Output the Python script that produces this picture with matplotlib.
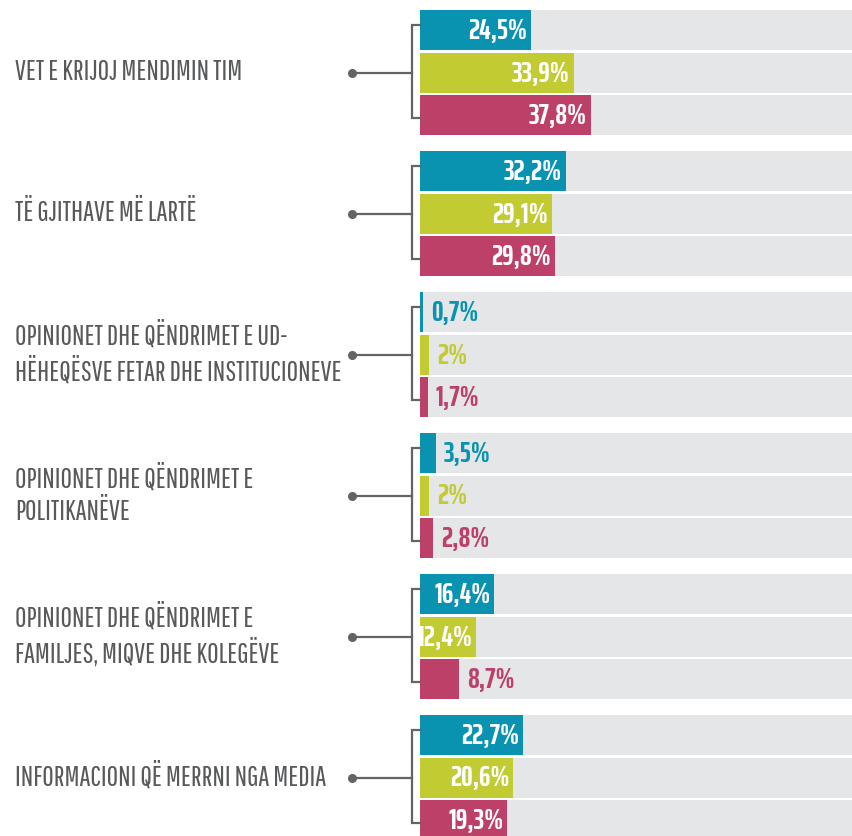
import matplotlib
matplotlib.use("Agg")
import matplotlib.pyplot as plt

# ---- data ----
categories = [
    "VET E KRIJOJ MENDIMIN TIM",
    "TË GJITHAVE MË LARTË",
    "OPINIONET DHE QËNDRIMET E UD-\nHËHEQËSVE FETAR DHE INSTITUCIONEVE",
    "OPINIONET DHE QËNDRIMET E\nPOLITIKANËVE",
    "OPINIONET DHE QËNDRIMET E\nFAMILJES, MIQVE DHE KOLEGËVE",
    "INFORMACIONI QË MERRNI NGA MEDIA",
]
series_a = [24.5, 32.2, 0.7, 3.5, 16.4, 22.7]
series_b = [33.9, 29.1, 2.0, 2.0, 12.4, 20.6]
series_c = [37.8, 29.8, 1.7, 2.8, 8.7, 19.3]

colors = ["#0a93b0", "#c3cb33", "#bd4069"]
bg_color = "#e5e6e8"
label_color = "#58595b"
bracket_color = "#636466"

LABEL_FONT = ["Pathway Gothic One", "DejaVu Sans"]
VALUE_FONT = ["Saira ExtraCondensed", "DejaVu Sans"]

W, H = 852, 837
fig = plt.figure(figsize=(W / 100, H / 100), dpi=100)
ax = fig.add_axes([0, 0, 1, 1])

PX = 4.53          # pixels per percent
X0 = 420           # pixel where bars start
ax.set_xlim(-X0 / PX, (W - X0) / PX)
ax.set_ylim(H, 0)
ax.axis("off")

group_pitch = 141
bar_pitch = 42.5
bar_h = 40
first_center = 31

def fmt(v):
    if abs(v - round(v)) < 1e-9:
        return f"{int(round(v))}%"
    return f"{v:.1f}".replace(".", ",") + "%"

all_series = [series_a, series_b, series_c]
xmax = (W - X0) / PX
for g, cat in enumerate(categories):
    centers = [first_center + g * group_pitch + k * bar_pitch for k in range(3)]
    # background bars
    ax.barh(centers, [xmax] * 3, height=bar_h, left=0, color=bg_color, zorder=1)
    for k, ser in enumerate(all_series):
        v = ser[g]
        ax.barh(centers[k], v, height=bar_h, left=0, color=colors[k], zorder=2)
        if v >= 10:
            ax.text(v - 4 / PX, centers[k], fmt(v), ha="right", va="center",
                    color="white", fontsize=21, family=VALUE_FONT,
                    fontweight="bold", zorder=3)
        else:
            ax.text(v + 8 / PX, centers[k], fmt(v), ha="left", va="center",
                    color=colors[k], fontsize=21, family=VALUE_FONT,
                    fontweight="bold", zorder=3)
    # bracket
    xb = (412 - X0) / PX
    xt = 0
    ytop = centers[0] - 5
    ybot = centers[2] + 3
    ax.plot([xt, xb, xb, xt], [ytop, ytop, ybot, ybot], color=bracket_color,
            lw=1.6, solid_joinstyle="miter", zorder=2, clip_on=False)
    xd = (352 - X0) / PX
    ax.plot([xd, xb], [centers[1], centers[1]], color=bracket_color, lw=1.6, zorder=2)
    ax.plot([xd], [centers[1]], marker="o", ms=5.5, color=bracket_color, zorder=3)
    # category label
    ax.text(15 / PX - X0 / PX, centers[1] - 2, cat, ha="left", va="center",
            color=label_color, fontsize=20, family=LABEL_FONT, linespacing=1.3)

fig.savefig("out.png", dpi=100)
